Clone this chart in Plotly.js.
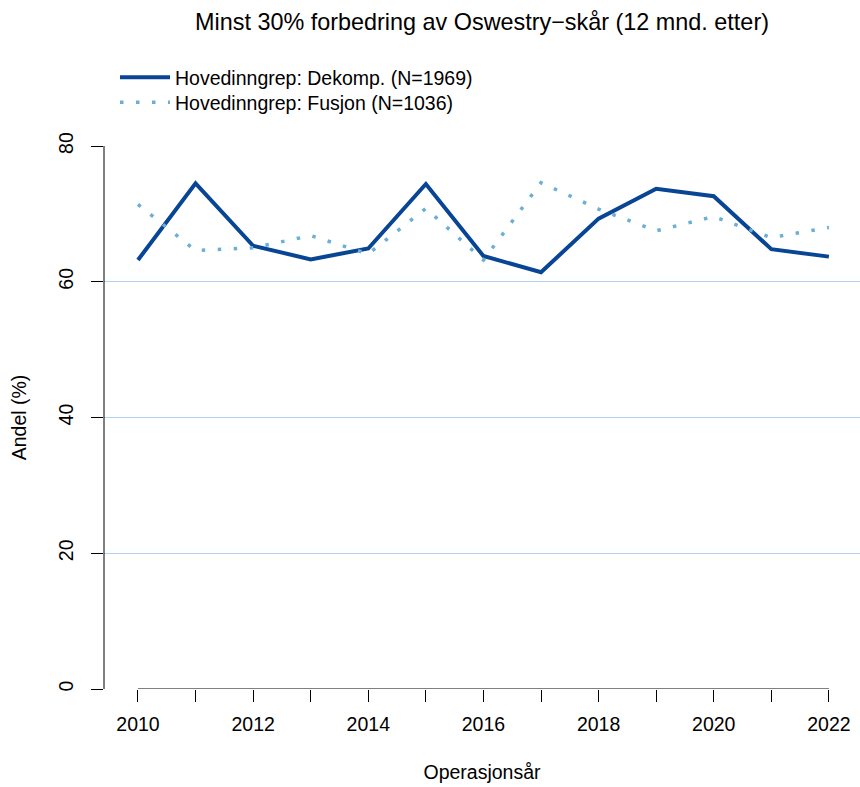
<!DOCTYPE html>
<html>
<head>
<meta charset="utf-8">
<script src="https://cdn.plot.ly/plotly-3.0.1.min.js"></script>
<style>html,body{margin:0;padding:0;background:#fff;}#chart{width:860px;height:787px;}</style>
</head>
<body>
<div id="chart"></div>
<script>
const years = [2010,2011,2012,2013,2014,2015,2016,2017,2018,2019,2020,2021,2022];
const dekomp = [63.2,74.5,65.3,63.3,64.9,74.4,63.8,61.4,69.3,73.7,72.6,64.8,63.7];
const fusjon = [71.4,64.6,65.0,66.8,64.1,70.8,63.2,74.6,70.7,67.5,69.6,66.5,68.0];
const seriesNames = ["Hovedinngrep: Dekomp. (N=1969)","Hovedinngrep: Fusjon (N=1036)"];
const yTicks = [0,20,40,60,80];
const xTickText = years.map(y => (y % 2 === 0 ? String(y) : ""));

const font = "Liberation Sans, Arial, Helvetica, sans-serif";
const fs = 19.5;

const traces = [
  {x: years, y: dekomp, name: seriesNames[0], mode: "lines", type: "scatter",
   legend: "legend", line: {color: "#084594", width: 4}},
  {x: years, y: fusjon, name: seriesNames[1], mode: "lines", type: "scatter",
   legend: "legend2", line: {color: "#6baed6", width: 3.5, dash: "3.5px,12.5px"}}
];

const legendBase = {x: (115-104)/756, xanchor: "left", yref: "container", yanchor: "top",
  font: {family: font, size: fs, color: "#000"}, bgcolor: "rgba(0,0,0,0)", itemwidth: 50};

const layout = {
  width: 860, height: 787,
  margin: {l: 104, r: 0, t: 146, b: 98},
  paper_bgcolor: "#fff", plot_bgcolor: "#fff",
  font: {family: font, size: fs, color: "#000"},
  showlegend: true,
  title: {text: "Minst 30% forbedring av Oswestry\u2212skår (12 mnd. etter)",
          font: {family: font, size: 23.4, color: "#000"},
          x: 0.5, xref: "paper", xanchor: "center",
          y: 1 - 22/787, yref: "container", yanchor: "middle"},
  legend: Object.assign({}, legendBase, {y: 1 - 58/787}),
  legend2: Object.assign({}, legendBase, {y: 1 - 83/787}),
  xaxis: {range: [2009.41, 2022.54], showgrid: false, zeroline: false, showline: false,
          tickmode: "array", tickvals: years, ticktext: xTickText,
          ticks: "outside", ticklen: 12, tickcolor: "#000", tickwidth: 1,
          ticklabelstandoff: 6,
          tickfont: {family: font, size: fs, color: "#000"},
          title: {text: "Operasjonsår", font: {family: font, size: fs, color: "#000"}, standoff: 30}},
  yaxis: {range: [0, 80], showgrid: true, gridcolor: "#b3d0ee", gridwidth: 1,
          zeroline: false, showline: false,
          tickmode: "array", tickvals: yTicks, ticktext: yTicks.map(String),
          ticks: "outside", ticklen: 12, tickcolor: "#000", tickwidth: 1,
          tickangle: -90, ticklabelstandoff: 10,
          tickfont: {family: font, size: fs, color: "#000"},
          title: {text: "Andel (%)", font: {family: font, size: fs, color: "#000"}, standoff: 23}},
  shapes: [
    {type: "line", xref: "x", yref: "y", x0: years[0], x1: years[years.length-1], y0: 0, y1: 0,
     line: {color: "#000", width: 1}, layer: "above"},
    {type: "line", xref: "paper", yref: "y", x0: 0, x1: 0, y0: yTicks[0], y1: yTicks[yTicks.length-1],
     line: {color: "#000", width: 1}, layer: "above"}
  ]
};

Plotly.newPlot("chart", traces, layout, {displayModeBar: false, staticPlot: true});
</script>
</body>
</html>
